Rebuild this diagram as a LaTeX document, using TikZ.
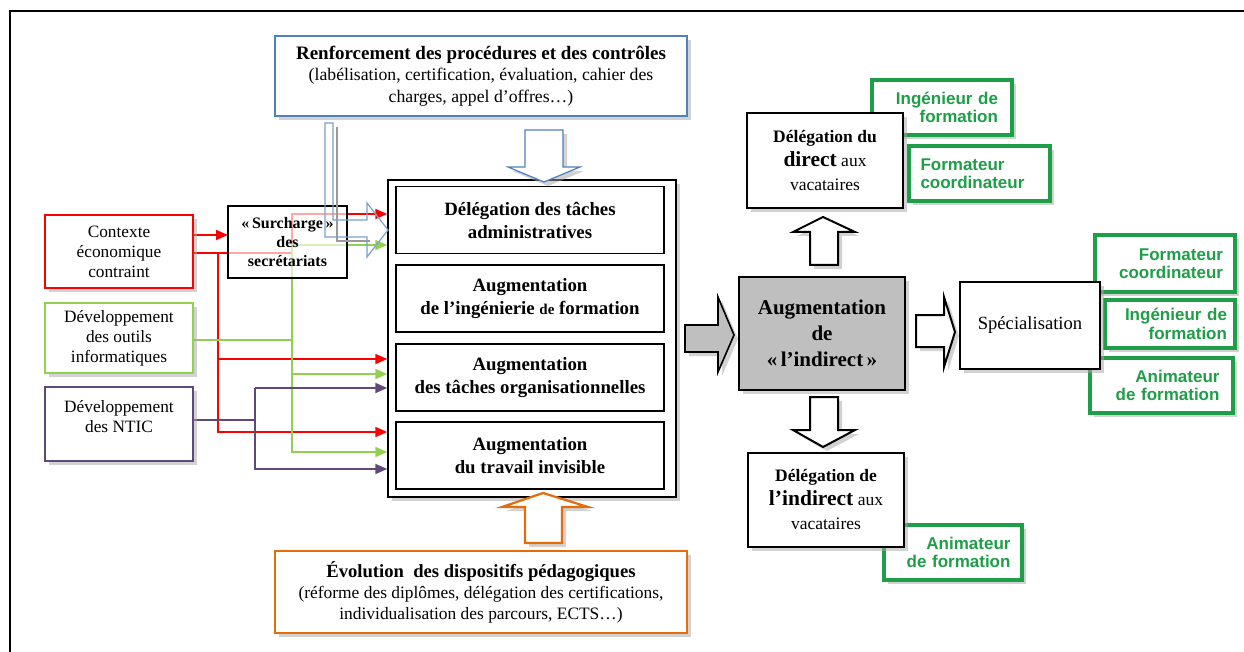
\documentclass[tikz,border=0pt]{standalone}
\usepackage{fontspec}
\setmainfont{Liberation Serif}
\newfontfamily\labfont{Liberation Sans}
\usetikzlibrary{arrows.meta,shadows,backgrounds}
\definecolor{renfblue}{HTML}{4F81BD}
\definecolor{evolorange}{HTML}{E46C0A}
\definecolor{ctxred}{HTML}{FF0000}
\definecolor{outgreen}{HTML}{92D050}
\definecolor{nticpurple}{HTML}{5F497A}
\definecolor{labgreen}{HTML}{1F9E48}
\definecolor{indirgray}{HTML}{BFBFBF}

\tikzset{
  shadowed/.style={drop shadow={shadow xshift=4pt, shadow yshift=-4pt, fill=black!35}},
  srcbox/.style={draw=#1, line width=2.2pt, fill=white, shadowed, minimum width=148pt,
    inner sep=0pt, align=center, font=\fontsize{17.3}{20}\selectfont},
  taskbox/.style={draw=black, line width=1.2pt, fill=white, minimum width=268pt,
    minimum height=67pt, inner sep=0pt, align=center, font=\fontsize{18.8}{23}\selectfont\bfseries},
  vacbox/.style={draw=black, line width=2.6pt, fill=white, shadowed, minimum width=156pt,
    minimum height=95pt, inner sep=0pt, align=center, font=\fontsize{17.5}{24}\selectfont},
  rolebox/.style={draw=labgreen, line width=3.2pt, fill=white, shadowed, minimum height=55pt,
    inner sep=0pt, text=labgreen, font=\labfont\bfseries\fontsize{17}{18.5}\selectfont},
  wire/.style={line width=1.8pt, draw=#1},
  wirearrow/.style={wire=#1, -{Triangle[length=12pt,width=10pt]}},
  blockarrow/.style={line width=#1, line join=miter, shadowed},
}

\begin{document}
\begin{tikzpicture}[x=1pt,y=-1pt]
  \useasboundingbox (0,0) rectangle (1244,652);
  \draw[line width=1.3pt] (10,652) -- (10,11) -- (1244,11);

  % sources on the left
  \node[srcbox=ctxred, minimum height=73pt] (ctx) at (119,251.5) {Contexte\\économique\\contraint};
  \node[srcbox=outgreen, minimum height=70pt] (outils) at (119,338) {Développement\\des outils\\informatiques};
  \node[srcbox=nticpurple, minimum height=74pt] (ntic) at (119,424) {Développement\\des NTIC\\[-5pt]\mbox{}};

  % framing boxes
  \node[draw=renfblue, line width=2.2pt, fill=white, shadowed, minimum width=412pt, minimum height=80pt,
    inner sep=0pt, align=center, font=\fontsize{17.7}{21.5}\selectfont] (renf) at (481,76)
    {{\bfseries\fontsize{19}{21.5}\selectfont Renforcement\ des procédures\ et des contrôles}\\
     (labélisation, certification, évaluation, cahier des\\charges, appel d’offres…)};
  \node[draw=evolorange, line width=2.2pt, fill=white, shadowed, minimum width=412pt, minimum height=82pt,
    inner sep=0pt, align=center, font=\fontsize{17.4}{21}\selectfont] (evol) at (481,592)
    {{\bfseries\fontsize{18.6}{21}\selectfont Évolution\enspace des dispositifs\ pédagogiques}\\
     (réforme des diplômes, délégation\ des certifications,\\individualisation\ des parcours, ECTS…)};

  % tasks
  \node[draw=black, line width=1.4pt, fill=white, shadowed, minimum width=288pt, minimum height=317pt] (cont) at (532,338.5) {};
  \node[taskbox] (deleg) at (530,220) {Délégation\ des\ tâches\\administratives};
  \node[taskbox] (ingen) at (530,298.5) {Augmentation\\de l’ingénierie {\fontsize{15}{23}\selectfont de} formation};
  \node[taskbox] (orga) at (530,377.5) {Augmentation\\des tâches\ organisationnelles};
  \node[taskbox] (invis) at (530,455.5) {Augmentation\\du\ travail\ invisible};

  % wires
  \begin{pgfonlayer}{background}
    \coordinate (rsplit) at (218,253);
    \coordinate (rbend) at (292,253);
    \coordinate (gtop) at (292,245);
    \coordinate (ptop) at (255,388);
    \draw[wirearrow=ctxred] (ctx.east |- 0,235) -- (228,235);
    \draw[wirearrow=ctxred] (ctx.east |- rsplit) -- (rbend) -- (rbend |- 0,214) -- (cont.west |- 0,214);
    \draw[wirearrow=ctxred] (rsplit) -- (rsplit |- 0,432) -- (cont.west |- 0,432);
    \draw[wirearrow=ctxred] (rsplit |- 0,359) -- (cont.west |- 0,359);
    \draw[wire=outgreen] (outils.east |- 0,340) -- (gtop |- 0,340);
    \draw[wirearrow=outgreen] (gtop) -- (gtop |- 0,452) -- (cont.west |- 0,452);
    \draw[wirearrow=outgreen] (gtop) -- (cont.west |- gtop);
    \draw[wirearrow=outgreen] (gtop |- 0,374) -- (cont.west |- 0,374);
    \draw[wire=nticpurple] (ntic.east |- 0,420) -- (ptop |- 0,420);
    \draw[wirearrow=nticpurple] (ptop) -- (ptop |- 0,469) -- (cont.west |- 0,469);
    \draw[wirearrow=nticpurple] (ptop) -- (cont.west |- ptop);
  \end{pgfonlayer}

  \node[draw=black, line width=1.2pt, fill=white, fill opacity=0.65, text opacity=1, minimum width=119pt,
    minimum height=72pt, inner sep=0pt, align=center, font=\fontsize{16}{19}\selectfont\bfseries] (surch)
    at (287.5,242) {«\,Surcharge\,»\\des\\secrétariats};

  % block arrows
  \draw[blockarrow=1.2pt, draw=renfblue, fill=white] (525,130) -- (563,130) -- (563,167) -- (580,167)
    -- (544,182) -- (508,167) -- (525,167) -- cycle;
  \draw[line width=1.2pt, draw=black!40, line join=miter] (337,127) -- (337,241) -- (370,241);
  \draw[line width=1.2pt, draw=renfblue!75, line join=miter] (325,123) -- (333,123) -- (333,220) -- (367,220)
    -- (367,203) -- (388,230) -- (367,257) -- (367,237) -- (325,237) -- cycle;
  \draw[blockarrow=2.2pt, draw=evolorange, fill=white] (525,543) -- (562,543) -- (562,507) -- (588,507)
    -- (543,493) -- (502,507) -- (525,507) -- cycle;
  \draw[blockarrow=1.6pt, draw=black, fill=indirgray] (685,325) -- (718,325) -- (718,297) -- (734,335)
    -- (718,372) -- (718,352) -- (685,352) -- cycle;
  \draw[blockarrow=2pt, draw=black, fill=white] (810,265) -- (838,265) -- (838,232) -- (855,232)
    -- (823,217) -- (793,232) -- (810,232) -- cycle;
  \draw[blockarrow=2pt, draw=black, fill=white] (810,397) -- (838,397) -- (838,430) -- (855,430)
    -- (823,447) -- (793,430) -- (810,430) -- cycle;
  \draw[blockarrow=2pt, draw=black, fill=white] (916,315) -- (944,315) -- (944,297) -- (955,332)
    -- (944,367) -- (944,347) -- (916,347) -- cycle;

  % indirect and delegation
  \node[draw=black, line width=2.6pt, fill=indirgray, shadowed, minimum width=166pt, minimum height=113pt,
    inner sep=0pt, align=center, font=\fontsize{21}{26}\selectfont\bfseries] (indir) at (822,333.5)
    {Augmentation\\de\\«\,l’indirect\,»};
  \node[rolebox, minimum width=140pt, text width=112pt, align=right] (ingtop) at (942,107.5) {Ingénieur de\\formation};
  \node[rolebox, minimum width=141pt, text width=118pt, align=left] (fortop) at (979.5,173.5) {Formateur\\coordinateur};
  \node[vacbox] (deldir) at (825,160.5)
    {\textbf{Délégation du}\\{\bfseries\fontsize{21.5}{24}\selectfont direct} aux\\vacataires};
  \node[rolebox, minimum width=138pt, text width=115pt, align=right] (anibot) at (953,552.5) {Animateur\\de formation};
  \node[vacbox, minimum height=94pt] (delind) at (826,500)
    {\textbf{Délégation de}\\{\bfseries\fontsize{21.5}{24}\selectfont l’indirect} aux\\vacataires};

  % specialisation
  \node[rolebox, minimum width=140pt, minimum height=57pt, text width=116pt, align=right] (forspe) at (1165,263.5) {Formateur\\coordinateur};
  \node[rolebox, minimum width=130pt, minimum height=48pt, text width=114pt, align=right] (ingspe) at (1170,324) {Ingénieur de\\formation};
  \node[rolebox, minimum width=143pt, text width=116pt, align=right] (anispe) at (1161.5,385.5) {Animateur\\de formation};
  \node[draw=black, line width=2.6pt, fill=white, shadowed, minimum width=140pt, minimum height=87pt,
    inner sep=0pt, font=\fontsize{18.6}{20}\selectfont] (spec) at (1030,325.5) {Spécialisation};
\end{tikzpicture}
\end{document}
